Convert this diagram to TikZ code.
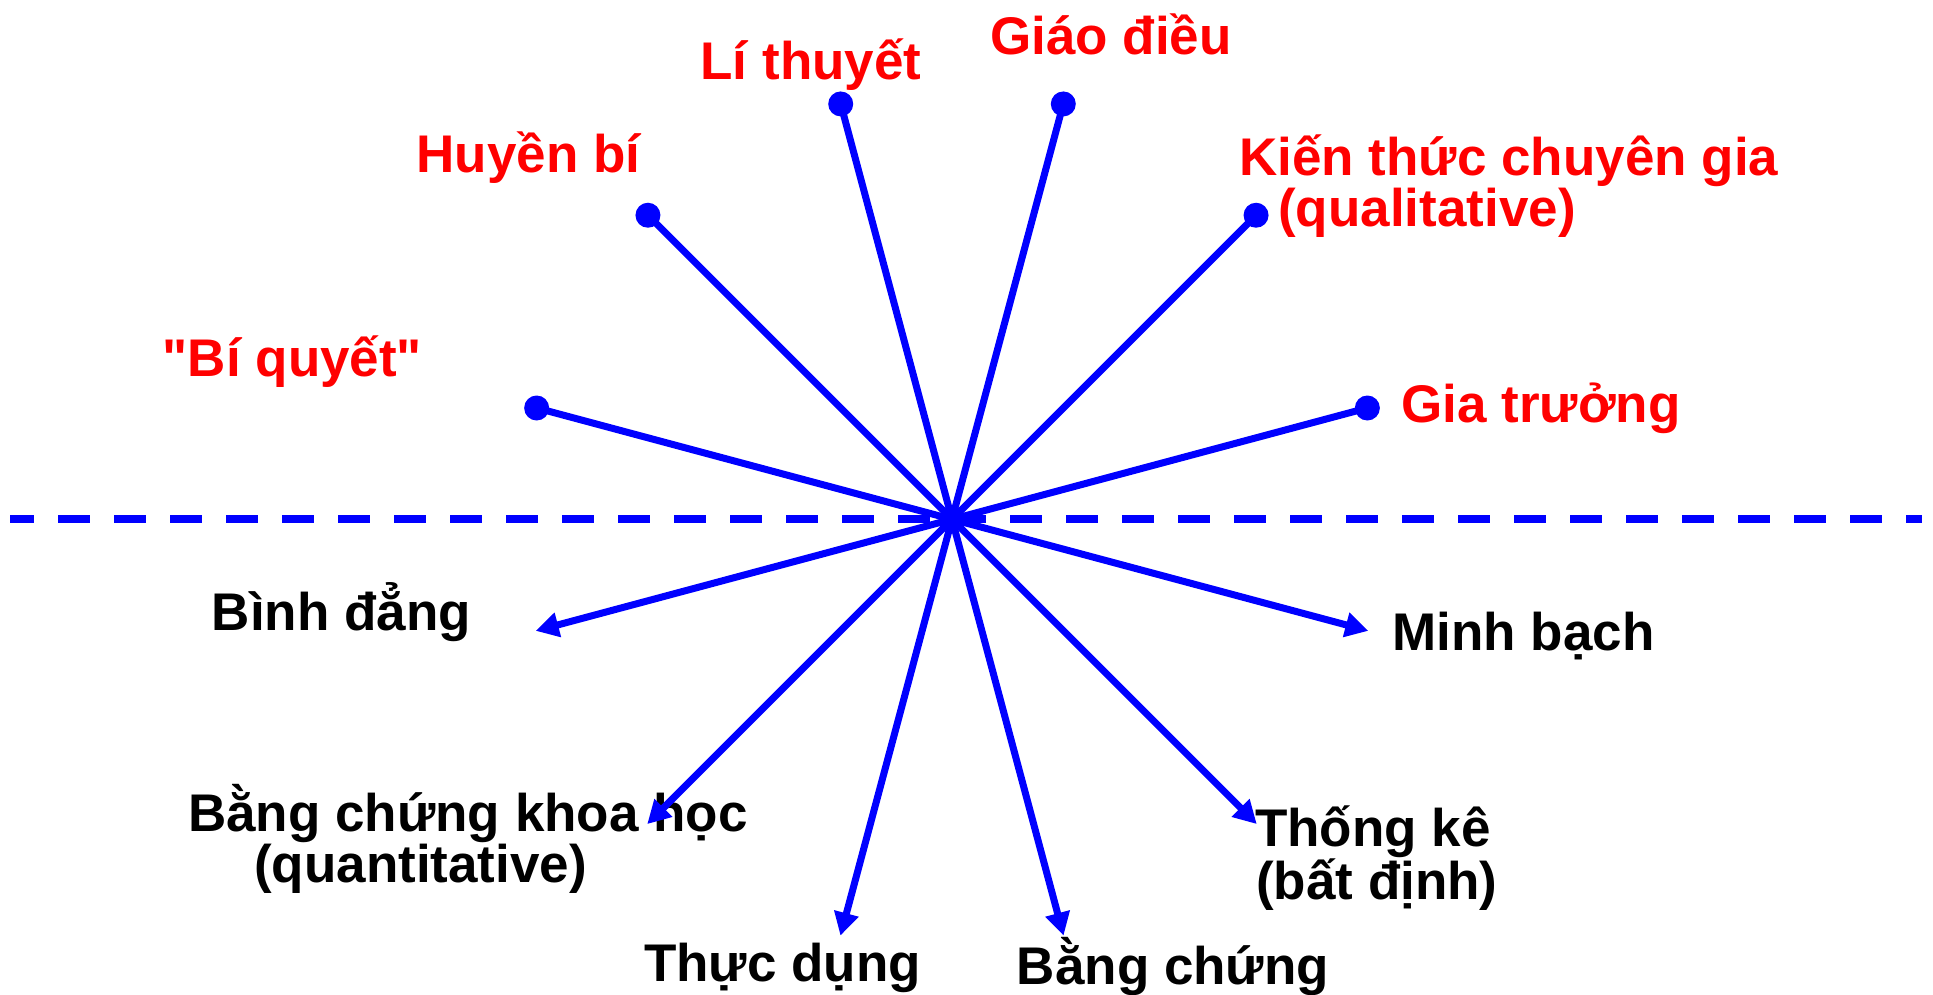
\documentclass[tikz,border=0pt]{standalone}
\usepackage{fontspec}
\setmainfont{Liberation Sans}
\newcommand\straightquote{\XeTeXglyph\XeTeXglyphindex "quotedbl" \relax}
\usetikzlibrary{arrows.meta,calc}
\definecolor{lblue}{RGB}{0,0,255}
\definecolor{lred}{RGB}{255,0,0}
\begin{document}
\begin{tikzpicture}[x=1pt,y=1pt,
  lbl/.style={inner sep=0pt, font=\fontsize{53}{51}\selectfont\bfseries},
  redlbl/.style={lbl, text=lred},
  blacklbl/.style={lbl, text=black},
  spoke/.style={draw=lblue, line width=7pt},
  arrowspoke/.style={spoke, -{Triangle[length=23pt,width=24pt]}},
  dotnode/.style={circle, fill=lblue, inner sep=0pt, minimum size=25pt},
  divider/.style={draw=lblue, line width=8pt, dash pattern=on 32pt off 24pt, dash phase=8pt}]
\useasboundingbox (0,0) rectangle (1933,994);
% labels
\node[redlbl, anchor=base] (lt) at (811,914) {Lí thuyết};
\node[redlbl, anchor=base] (hb) at (528.5,821) {Huyền bí};
\node[redlbl, anchor=base] (bq) at (292.5,617) {\straightquote Bí quyết\straightquote};
\node[redlbl, anchor=base] (gd) at (1111,939) {Giáo điều};
\node[redlbl, anchor=base west, align=left] (kt) at (1239,767) {Kiến thức chuyên gia\\\hspace*{39pt}(qualitative)};
\node[redlbl, anchor=base] (gt) at (1541,571) {Gia trưởng};
\node[blacklbl, anchor=base] (bd) at (341.5,363) {Bình đẳng};
\node[blacklbl, anchor=base west, align=left] (bckh) at (188,112) {Bằng chứng khoa học\\\hspace*{66pt}(quantitative)};
\node[blacklbl, anchor=base] (td) at (782.5,13) {Thực dụng};
\node[blacklbl, anchor=base] (mb) at (1523.5,343) {Minh bạch};
\node[blacklbl, anchor=base west, align=left] (tk) at (1255,95) {Thống kê\\\hspace*{1pt}(bất định)};
\node[blacklbl, anchor=base] (bc) at (1173,10) {Bằng chứng};
% divider
\coordinate (dl) at (10,474.7);
\coordinate (dr) at (1922,474.7);
\draw[divider] (dl) -- (dr);
% centre
\coordinate (c) at (952,474.7);
% upper dots
\node[dotnode] (d165) at ($(c)+(165:430)$) {};
\node[dotnode] (d135) at ($(c)+(135:430)$) {};
\node[dotnode] (d105) at ($(c)+(105:430)$) {};
\node[dotnode] (d75) at ($(c)+(75:430)$) {};
\node[dotnode] (d45) at ($(c)+(45:430)$) {};
\node[dotnode] (d15) at ($(c)+(15:430)$) {};
\foreach \n in {d165,d135,d105,d75,d45,d15} \draw[spoke] (c) -- (\n.center);
% lower arrow tips
\coordinate (t195) at ($(c)+(195:431)$);
\coordinate (t225) at ($(c)+(225:431)$);
\coordinate (t255) at ($(c)+(255:431)$);
\coordinate (t285) at ($(c)+(285:431)$);
\coordinate (t315) at ($(c)+(315:431)$);
\coordinate (t345) at ($(c)+(345:431)$);
\foreach \n in {t195,t225,t255,t285,t315,t345} \draw[arrowspoke] (c) -- (\n);
\end{tikzpicture}
\end{document}
